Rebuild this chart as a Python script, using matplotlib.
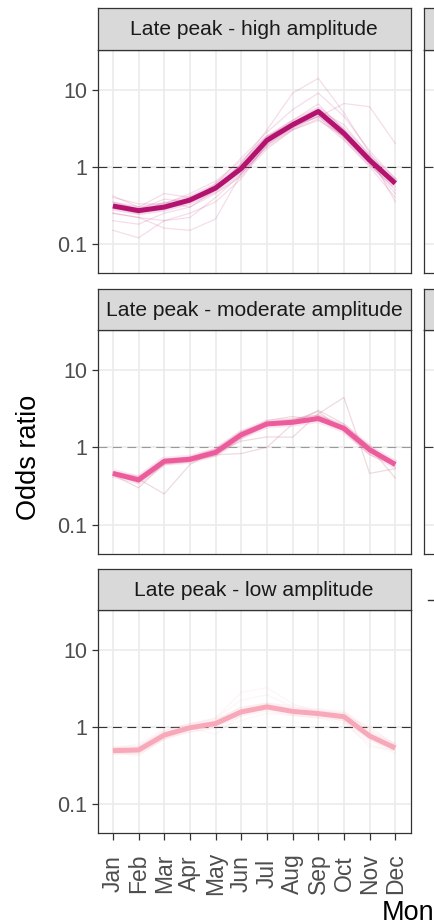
import matplotlib
matplotlib.use('Agg')
import matplotlib.pyplot as plt
from matplotlib.lines import Line2D

plt.rcParams['font.family'] = ['Liberation Sans', 'DejaVu Sans']

months = ['Jan', 'Feb', 'Mar', 'Apr', 'May', 'Jun', 'Jul', 'Aug', 'Sep', 'Oct', 'Nov', 'Dec']
titles = ['Late peak - high amplitude', 'Late peak - moderate amplitude', 'Late peak - low amplitude']
y_ticks = [0.1, 1, 10]
y_tick_labels = ['0.1', '1', '10']

# summary (thick) lines
high_main = [0.31, 0.27, 0.30, 0.37, 0.53, 0.95, 2.2, 3.5, 5.2, 2.7, 1.22, 0.61]
moderate_main = [0.46, 0.38, 0.66, 0.70, 0.86, 1.45, 2.0, 2.1, 2.35, 1.75, 0.93, 0.60]
low_main = [0.49, 0.50, 0.78, 0.97, 1.10, 1.56, 1.81, 1.58, 1.48, 1.35, 0.76, 0.53]

# individual (thin) lines, read approximately
high_thin = [
    [0.42, 0.30, 0.45, 0.40, 0.55, 1.05, 2.4, 4.0, 6.5, 3.0, 1.3, 0.55],
    [0.25, 0.22, 0.20, 0.22, 0.40, 0.80, 1.9, 3.2, 4.5, 2.4, 1.1, 0.45],
    [0.35, 0.28, 0.38, 0.35, 0.60, 1.3, 2.8, 5.5, 9.0, 4.5, 1.6, 0.70],
    [0.20, 0.18, 0.25, 0.30, 0.45, 0.75, 1.7, 3.0, 4.2, 2.2, 1.0, 0.40],
    [0.40, 0.33, 0.33, 0.45, 0.65, 1.2, 2.5, 3.5, 4.4, 6.6, 6.0, 2.0],
    [0.25, 0.22, 0.16, 0.15, 0.21, 0.82, 1.8, 3.0, 4.0, 2.5, 1.1, 0.50],
    [0.30, 0.25, 0.35, 0.30, 0.50, 1.1, 3.0, 9.0, 14.0, 5.0, 1.5, 0.60],
    [0.15, 0.12, 0.20, 0.25, 0.35, 0.70, 2.0, 3.5, 5.5, 3.5, 1.4, 0.35],
]
moderate_thin = [
    [0.45, 0.40, 0.65, 0.70, 0.85, 1.2, 1.36, 1.35, 2.7, 4.4, 0.46, 0.53],
    [0.45, 0.35, 0.60, 0.65, 0.80, 0.83, 1.0, 2.0, 3.0, 2.0, 1.0, 0.40],
    [0.48, 0.42, 0.70, 0.75, 0.95, 1.6, 2.1, 2.3, 2.6, 1.9, 0.85, 0.62],
    [0.44, 0.30, 0.62, 0.66, 0.78, 1.3, 1.9, 2.2, 2.9, 1.6, 0.80, 0.58],
    [0.47, 0.39, 0.25, 0.60, 0.90, 1.5, 2.2, 2.5, 2.2, 1.8, 1.05, 0.55],
]
low_thin = [
    [0.50, 0.55, 0.90, 1.1, 1.3, 2.2, 2.6, 1.8, 1.6, 1.5, 0.90, 0.55],
    [0.45, 0.45, 0.70, 0.85, 0.95, 1.2, 1.5, 1.4, 1.3, 1.1, 0.60, 0.45],
    [0.55, 0.50, 0.85, 1.0, 1.2, 1.8, 2.0, 1.9, 1.7, 1.6, 0.95, 0.60],
    [0.48, 0.42, 0.70, 0.95, 0.80, 1.4, 1.9, 1.5, 1.4, 1.2, 0.55, 0.50],
    [0.52, 0.60, 0.95, 1.05, 1.3, 2.8, 3.2, 2.0, 1.5, 1.4, 1.0, 0.58],
]

mains = [high_main, moderate_main, low_main]
thins = [high_thin, moderate_thin, low_thin]
main_colors = ['#B3126F', '#EC5C9C', '#F8A9B9']
thin_colors = ['#C0307F', '#C07080', '#F6A0B0']
thin_alphas = [0.16, 0.25, 0.09]
ref_colors = ['#333333', '#9A9A9A', '#333333']

W, H = 434, 924
fig = plt.figure(figsize=(W / 100, H / 100), dpi=100)
fig.patch.set_facecolor('white')


def px_axes(x0, y0, x1, y1):
    return fig.add_axes([x0 / W, 1 - y1 / H, (x1 - x0) / W, (y1 - y0) / H])


panel_x = (97.5, 410.7)
col2_x = (424.0, 424.0 + 313.2)
rows = [(8, 50, 273), (289, 330, 554), (569, 610, 833)]
ylim = (10 ** -1.377, 10 ** 1.513)
xpos = list(range(1, 13))
border = '#333333'
grid_c = '#EBEBEB'


def style_panel(ax, show_y=True, show_x=False):
    ax.set_yscale('log')
    ax.set_xlim(0.4, 12.6)
    ax.set_ylim(*ylim)
    ax.set_facecolor('white')
    for s in ax.spines.values():
        s.set_color(border)
        s.set_linewidth(0.9)
        s.set_zorder(10)
    for x in xpos:
        ax.axvline(x, color=grid_c, lw=1.2, zorder=0)
    for y in y_ticks:
        ax.axhline(y, color=grid_c, lw=1.2, zorder=0)
    ax.set_yticks(y_ticks)
    ax.set_yticks([], minor=True)
    ax.set_xticks(xpos)
    if show_y:
        ax.set_yticklabels(y_tick_labels)
        ax.tick_params(axis='y', length=4.3, width=0.9, color=border,
                       labelsize=15.5, labelcolor='#4D4D4D', pad=3)
    else:
        ax.tick_params(axis='y', left=False, labelleft=False)
    if show_x:
        ax.set_xticklabels(months, rotation=90, va='center', ha='center')
        ax.tick_params(axis='x', length=5, width=0.9, color=border,
                       labelsize=16.5, labelcolor='#4D4D4D', pad=24)
    else:
        ax.tick_params(axis='x', bottom=False, labelbottom=False)


def strip(x0, x1, y0, y1, text):
    s = px_axes(x0, y0, x1, y1)
    s.set_facecolor('#D9D9D9')
    s.set_xticks([])
    s.set_yticks([])
    for sp in s.spines.values():
        sp.set_color(border)
        sp.set_linewidth(0.9)
    if text:
        s.text(0.5, 0.48, text, ha='center', va='center', fontsize=15.1,
               color='#1A1A1A', transform=s.transAxes)
    return s


for i, (st, pt, pb) in enumerate(rows):
    ax = px_axes(panel_x[0], pt, panel_x[1], pb)
    style_panel(ax, show_y=True, show_x=(i == 2))
    ax.axhline(1, color=ref_colors[i], lw=0.8, dashes=(8, 5), zorder=1)
    for line in thins[i]:
        ax.plot(xpos, line, color=thin_colors[i], lw=0.9, alpha=thin_alphas[i], zorder=2)
    ax.plot(xpos, mains[i], color=main_colors[i], lw=6.5, alpha=0.15, zorder=3,
            solid_capstyle='butt', solid_joinstyle='round')
    ax.plot(xpos, mains[i], color=main_colors[i], lw=3.6, zorder=4,
            solid_capstyle='butt', solid_joinstyle='round')
    strip(panel_x[0], panel_x[1], st, pt, titles[i])

    if i < 2:
        ax2 = px_axes(col2_x[0], pt, col2_x[1], pb)
        style_panel(ax2, show_y=False, show_x=False)
        ax2.axhline(1, color='#333333', lw=0.8, dashes=(8, 5), zorder=1)
        strip(col2_x[0], col2_x[1], st, pt, '')

fig.add_artist(Line2D([428 / W, 434 / W], [1 - 600 / H, 1 - 600 / H],
                      color='#333333', lw=1.0, transform=fig.transFigure))

fig.text(29 / W, 1 - 457 / H, 'Odds ratio', rotation=90, ha='center', va='center',
         fontsize=19.5, color='black')
fig.text(382 / W, 1 - 920 / H, 'Month', ha='left', va='baseline',
         fontsize=19.5, color='black')

fig.savefig('out.png', dpi=100, facecolor='white')
